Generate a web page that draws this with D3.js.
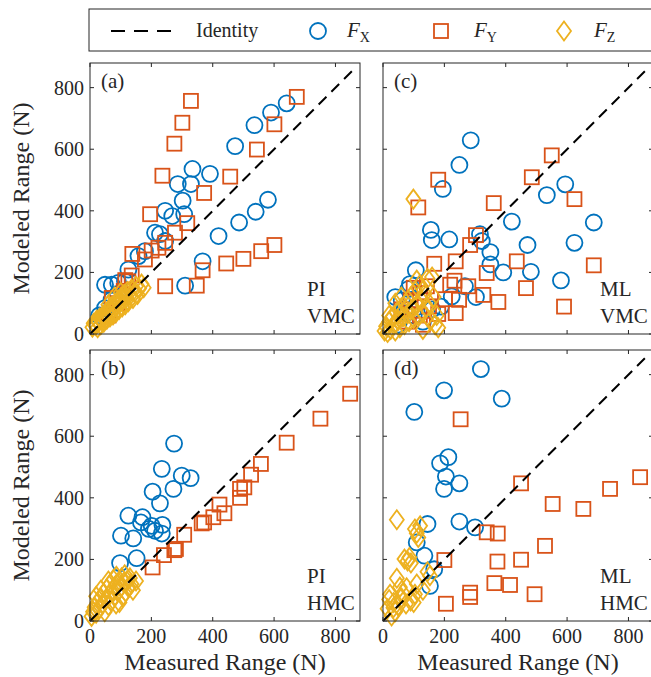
<!DOCTYPE html>
<html>
<head>
<meta charset="utf-8">
<script src="https://cdn.jsdelivr.net/npm/d3@7"></script>
<style>
  body { margin: 0; background: #fff; }
  svg text { font-family: "Liberation Serif", "DejaVu Serif", serif; fill: #262626; }
</style>
</head>
<body>
<div id="chart"></div>
<script>
// ---- data (measured, modeled) ----
const aX = [[641,749],[590,719],[536,678],[473,610],[391,520],[334,536],[329,487],[286,487],[302,433],[245,400],[268,383],[307,389],[212,329],[228,324],[245,302],[179,269],[158,253],[125,209],[49,160],[71,160],[92,166],[114,171],[49,84],[30,60],[70,110],[90,130],
  [580,436],[540,397],[486,362],[419,318],[367,236],[310,157]];
const aY = [[674,770],[329,757],[301,686],[275,618],[601,681],[544,599],[236,514],[457,511],[372,458],[196,389],[317,360],[277,329],[245,296],[223,280],[201,271],[138,260],[179,242],[136,190],[125,171],[71,117],
  [601,289],[558,269],[500,244],[444,229],[367,207],[348,157],[245,155],[110,140],[115,175],[60,60],[90,100]];
const aZ = [[8,22],[12,35],[18,28],[22,45],[25,20],[28,38],[32,52],[35,30],[38,45],[42,60],[45,38],[48,55],[52,70],[55,48],[58,62],[62,80],[65,55],[68,72],[72,90],[75,62],[78,82],[82,100],[85,70],[88,92],[92,110],[95,80],[98,102],[102,120],[105,88],[108,112],[112,128],[115,95],[118,118],[122,138],[125,105],[130,125],[135,145],[140,115],[145,135],[150,155],[155,128],[160,148],[168,162],[175,150],[60,95],[80,120],[100,135]];

const bX = [[274,576],[234,494],[299,472],[328,464],[204,420],[272,429],[228,382],[125,342],[171,337],[166,320],[201,309],[236,312],[192,299],[212,293],[234,284],[101,277],[141,268],[152,204],[98,188]];
const bY = [[848,738],[751,657],[641,579],[557,510],[525,475],[503,434],[489,429],[489,400],[422,378],[438,350],[402,337],[372,320],[364,317],[307,280],[280,234],[275,230],[241,214],[204,174]];
const bZ = [[5,15],[10,30],[15,45],[20,25],[25,60],[30,40],[35,75],[40,55],[45,90],[48,30],[52,70],[55,105],[60,50],[63,85],[66,120],[70,65],[73,100],[76,135],[80,80],[83,115],[86,145],[90,95],[93,125],[96,60],[100,110],[103,140],[106,80],[110,125],[113,150],[116,95],[120,130],[125,110],[130,140],[135,120],[140,100],[150,130],[20,80],[35,100],[60,130],[85,55]];

const cX = [[286,629],[249,549],[195,471],[594,486],[534,451],[687,362],[420,365],[156,338],[159,305],[216,307],[316,324],[322,302],[350,266],[350,226],[471,289],[624,296],[392,200],[482,202],[580,174],[107,207],[88,162],[83,146],[267,155],[224,122],[303,120],[61,109],[189,89],[77,68],
  [70,80],[100,60],[130,40],[50,30],[160,80],[40,120]];
const cY = [[550,580],[485,509],[180,501],[624,438],[115,411],[361,425],[303,321],[284,289],[237,236],[167,228],[436,236],[338,198],[687,223],[233,173],[219,160],[143,155],[278,155],[327,127],[466,149],[202,113],[248,111],[376,104],[590,89],[237,68],
  [121,133],[150,90],[180,65],[120,60],[100,150],[60,80],[80,40],[130,30],[90,110]];
const cZ = [[99,438],[5,10],[10,25],[15,5],[20,40],[25,15],[30,55],[35,30],[40,10],[45,70],[50,45],[55,20],[60,85],[65,55],[70,30],[75,100],[80,65],[85,40],[90,120],[95,80],[100,50],[105,140],[110,95],[115,60],[120,160],[125,110],[130,70],[135,130],[140,85],[145,180],[150,100],[155,45],[160,185],[165,120],[170,30],[175,60],[180,20],[40,100],[60,120],[20,60],[110,175],[130,15]];

const dX = [[319,818],[199,749],[387,722],[102,679],[213,532],[186,512],[205,469],[249,447],[199,429],[249,323],[300,304],[145,315],[110,255],[135,212],[167,168],[153,114]];
const dY = [[253,655],[450,447],[838,467],[740,429],[553,380],[653,364],[338,288],[374,284],[528,244],[200,198],[373,193],[450,199],[363,123],[414,117],[494,87],[284,92],[284,78],[205,56]];
const dZ = [[45,329],[104,299],[121,309],[115,271],[110,285],[70,201],[86,206],[91,188],[80,195],[153,147],[145,160],[45,139],[77,108],[104,87],[23,87],[60,75],[35,60],[50,50],[34,43],[28,16],[65,90],[90,65],[55,110],[40,30],[75,55],[20,70],[15,40],[110,120],[130,100],[100,60]];

const ticks = [0, 200, 400, 600, 800];
const identityMax = 868;

const panels = [
  { tag: "(a)", method: "PI", cond: "VMC", fx: aX, fy: aY, fz: aZ, left: 90, top: 63, yLabel: true, xLabel: false },
  { tag: "(b)", method: "PI", cond: "HMC", fx: bX, fy: bY, fz: bZ, left: 90, top: 350, yLabel: true, xLabel: true },
  { tag: "(c)", method: "ML", cond: "VMC", fx: cX, fy: cY, fz: cZ, left: 383, top: 63, yLabel: false, xLabel: false },
  { tag: "(d)", method: "ML", cond: "HMC", fx: dX, fy: dY, fz: dZ, left: 383, top: 350, yLabel: false, xLabel: true }
];

const colX = "#0072BD", colY = "#D95319", colZ = "#EDB120";
const width = 651, height = 677;
const pw = 270, ph = 271;

const svg = d3.select("#chart").append("svg")
  .attr("width", width)
  .attr("height", height);

const diamond = (cx, cy) => `M${cx},${cy - 9.5}L${cx + 7},${cy}L${cx},${cy + 9.5}L${cx - 7},${cy}Z`;

panels.forEach(p => {
  const x = d3.scaleLinear().domain([0, 880]).range([p.left, p.left + pw]);
  const y = d3.scaleLinear().domain([0, 880]).range([p.top + ph, p.top]);

  const g = svg.append("g");

  // markers
  g.selectAll("circle.fx").data(p.fx).enter().append("circle")
    .attr("cx", d => x(d[0])).attr("cy", d => y(d[1])).attr("r", 8)
    .attr("fill", "none").attr("stroke", colX).attr("stroke-width", 1.8);
  g.selectAll("rect.fy").data(p.fy).enter().append("rect")
    .attr("x", d => x(d[0]) - 7).attr("y", d => y(d[1]) - 7)
    .attr("width", 14).attr("height", 14)
    .attr("fill", "none").attr("stroke", colY).attr("stroke-width", 1.8);
  g.selectAll("path.fz").data(p.fz).enter().append("path")
    .attr("d", d => diamond(x(d[0]), y(d[1])))
    .attr("fill", "none").attr("stroke", colZ).attr("stroke-width", 1.8);

  // identity line
  g.append("line")
    .attr("x1", x(0)).attr("y1", y(0))
    .attr("x2", x(identityMax)).attr("y2", y(identityMax))
    .attr("stroke", "#000").attr("stroke-width", 2)
    .attr("stroke-dasharray", "11,7");

  // box + inward ticks on all sides
  g.append("rect")
    .attr("x", p.left).attr("y", p.top).attr("width", pw).attr("height", ph)
    .attr("fill", "none").attr("stroke", "#262626").attr("stroke-width", 1);
  ticks.forEach(t => {
    g.append("line").attr("x1", x(t)).attr("x2", x(t)).attr("y1", p.top + ph).attr("y2", p.top + ph - 4).attr("stroke", "#262626");
    g.append("line").attr("x1", x(t)).attr("x2", x(t)).attr("y1", p.top).attr("y2", p.top + 4).attr("stroke", "#262626");
    g.append("line").attr("y1", y(t)).attr("y2", y(t)).attr("x1", p.left).attr("x2", p.left + 4).attr("stroke", "#262626");
    g.append("line").attr("y1", y(t)).attr("y2", y(t)).attr("x1", p.left + pw).attr("x2", p.left + pw - 4).attr("stroke", "#262626");
  });

  // tick labels
  if (p.yLabel) {
    g.selectAll("text.yt").data(ticks).enter().append("text")
      .attr("x", p.left - 6).attr("y", d => y(d) + 7)
      .attr("text-anchor", "end").attr("font-size", 20)
      .text(d => d);
  }
  if (p.xLabel) {
    g.selectAll("text.xt").data(ticks).enter().append("text")
      .attr("x", d => x(d)).attr("y", p.top + ph + 22)
      .attr("text-anchor", "middle").attr("font-size", 20)
      .text(d => d);
    g.append("text")
      .attr("x", p.left + pw / 2).attr("y", 670)
      .attr("text-anchor", "middle").attr("font-size", 24)
      .text("Measured Range (N)");
  }
  if (p.yLabel) {
    g.append("text")
      .attr("transform", `translate(29,${p.top + ph / 2}) rotate(-90)`)
      .attr("text-anchor", "middle").attr("font-size", 24)
      .text("Modeled Range (N)");
  }

  // panel annotations
  g.append("text").attr("x", p.left + 11).attr("y", p.top + 25).attr("font-size", 21).text(p.tag);
  g.append("text").attr("x", p.left + 217).attr("y", p.top + 233).attr("font-size", 21).text(p.method);
  g.append("text").attr("x", p.left + 217).attr("y", p.top + 260).attr("font-size", 21).text(p.cond);
});

// legend
const lg = svg.append("g");
lg.append("rect").attr("x", 89).attr("y", 9).attr("width", 580).attr("height", 42)
  .attr("fill", "#fff").attr("stroke", "#262626").attr("stroke-width", 1);
lg.append("line").attr("x1", 111).attr("x2", 179).attr("y1", 31).attr("y2", 31)
  .attr("stroke", "#000").attr("stroke-width", 2).attr("stroke-dasharray", "14,9");
lg.append("text").attr("x", 196).attr("y", 37).attr("font-size", 20).text("Identity");

lg.append("circle").attr("cx", 318).attr("cy", 31).attr("r", 8)
  .attr("fill", "none").attr("stroke", colX).attr("stroke-width", 1.8);
lg.append("rect").attr("x", 434).attr("y", 24).attr("width", 14).attr("height", 14)
  .attr("fill", "none").attr("stroke", colY).attr("stroke-width", 1.8);
lg.append("path").attr("d", diamond(564, 31))
  .attr("fill", "none").attr("stroke", colZ).attr("stroke-width", 1.8);

[["X", 347], ["Y", 474], ["Z", 594]].forEach(([s, lx]) => {
  const t = lg.append("text").attr("x", lx).attr("y", 37).attr("font-size", 21);
  t.append("tspan").attr("font-style", "italic").text("F");
  t.append("tspan").attr("font-size", 14).attr("dy", 5).text(s);
});
</script>
</body>
</html>
